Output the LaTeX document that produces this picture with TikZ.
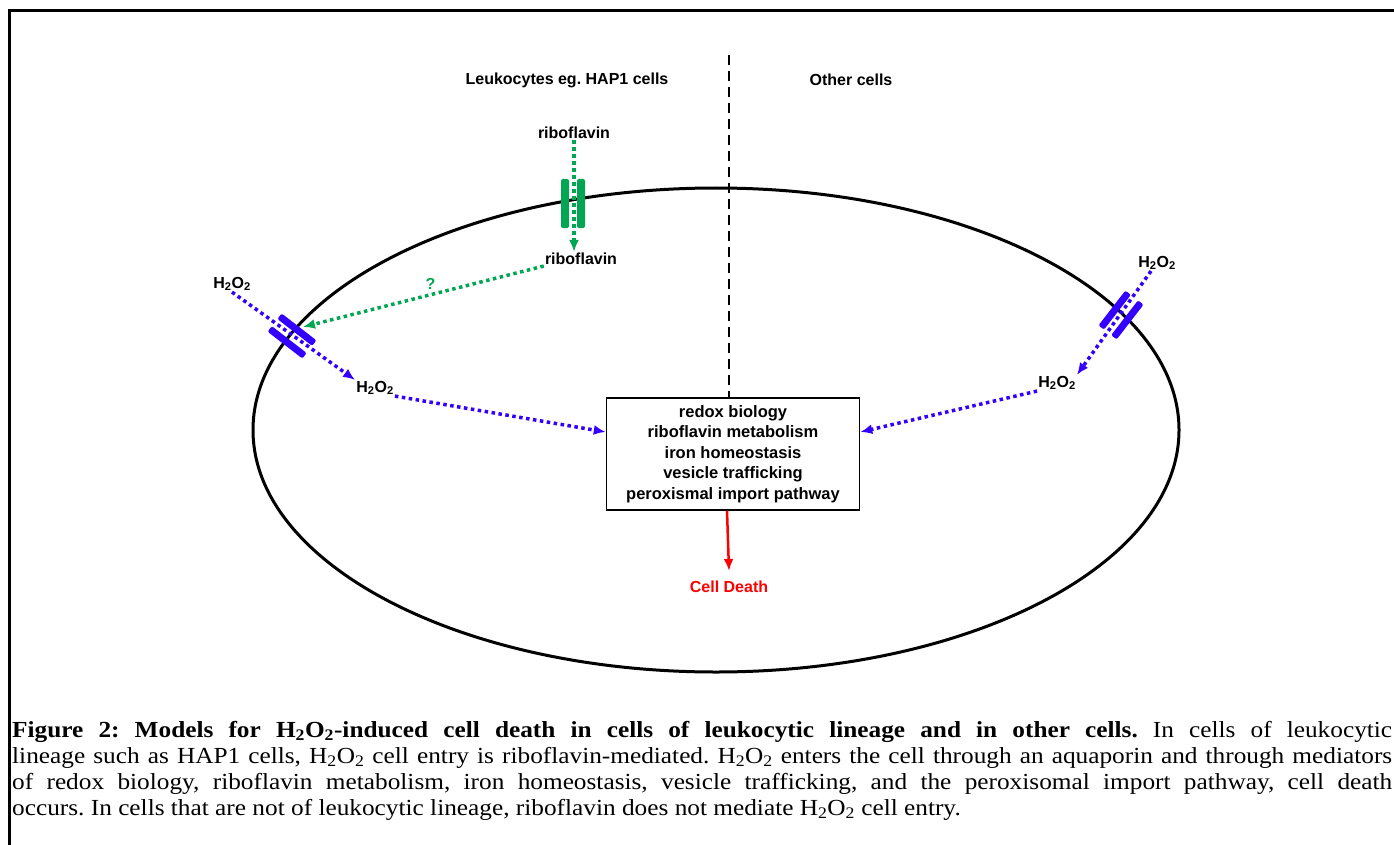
\documentclass[tikz,border=0pt]{standalone}
\usepackage{fontspec}
\setmainfont{Liberation Serif}
\newfontfamily\labelfont{Liberation Sans}
\newfontfamily\capfont[FakeStretch=1.1]{Liberation Serif}
\usetikzlibrary{arrows.meta,positioning}

\definecolor{chanblue}{RGB}{51,0,255}
\definecolor{ribgreen}{RGB}{0,166,81}
\definecolor{deathred}{RGB}{255,0,0}

\newcommand{\hoo}{H\textsubscript{2}O\textsubscript{2}}
\frenchspacing

\begin{document}
\begin{tikzpicture}[x=1pt, y=-1pt, >=Latex,
    lbl/.style = {font=\labelfont\bfseries\fontsize{16}{19}\selectfont, inner sep=1pt},
    block/.style = {draw, line width=1.5pt, minimum width=253pt, minimum height=112pt, align=center,
      font=\labelfont\bfseries\fontsize{16.5}{20.5}\selectfont},
    caption/.style = {text width=1380pt, inner sep=0pt, align=justify,
      font=\capfont\fontsize{23}{26}\selectfont},
    frame/.style = {line width=3pt},
    cellwall/.style = {line width=3pt},
    divider/.style = {line width=2pt, dash pattern=on 10pt off 6pt},
    h2o2flow/.style = {chanblue, line width=3.5pt, dash pattern=on 3.5pt off 3.5pt,
      -{Latex[length=12pt,width=10pt]}},
    ribflow/.style = {ribgreen, line width=3.5pt, dash pattern=on 3.5pt off 3.5pt,
      -{Latex[length=12pt,width=10pt]}},
    deatharrow/.style = {deathred, line width=2.5pt, -{Latex[length=12pt,width=10pt]}},
    chanbar/.style = {rounded corners=2pt},
  ]
  \useasboundingbox (0,0) rectangle (1394,845);
  \draw[frame] (9,845) -- (9,11) -- (1394,11);

  \node [lbl] (lhead) at (567,80) {Leukocytes eg. HAP1 cells};
  \node [lbl] (rhead) at (851,80) {Other cells};

  \draw[cellwall] (716,430) ellipse [x radius=463pt, y radius=242pt];

  \node [block] (box) at (733,454) {redox biology\\riboflavin metabolism\\iron homeostasis\\vesicle trafficking\\peroxismal import pathway};
  \coordinate (divtop) at (729,55);
  \draw[divider] (divtop) -- (divtop |- box.north);

  % riboflavin channel
  \fill[ribgreen, chanbar] (561,179) rectangle (569,228);
  \fill[ribgreen, chanbar] (577,179) rectangle (585,228);
  \node [lbl] (ribtop) at (574,133) {riboflavin};
  \node [lbl] (ribin) at (581,259) {riboflavin};
  \draw[ribflow] (ribtop.south) -- (ribtop |- ribin.north);

  % aquaporin, left
  \begin{scope}[shift={(292,336)}, rotate=-37.7]
    \fill[chanblue, chanbar] (-22,-11.5) rectangle (22,-4.5);
    \fill[chanblue, chanbar] (-22,4.5) rectangle (22,11.5);
  \end{scope}
  \coordinate (lgate) at (303,327);
  \node [lbl] (h2o2ol) at (232,284) {\hoo};
  \node [lbl] (h2o2il) at (375,388) {\hoo};
  \draw[h2o2flow] (h2o2ol.south) -- (h2o2il.north west);
  \draw[ribflow] (ribin.south west) -- node[lbl, ribgreen, above=2pt, pos=0.47] (qmark) {?} (lgate);
  \draw[h2o2flow] (h2o2il.south east) -- ([yshift=22pt]box.west);

  % aquaporin, right
  \begin{scope}[shift={(1121,315)}, rotate=52.3]
    \fill[chanblue, chanbar] (-22,-11.5) rectangle (22,-4.5);
    \fill[chanblue, chanbar] (-22,4.5) rectangle (22,11.5);
  \end{scope}
  \node [lbl] (h2o2or) at (1157,263) {\hoo};
  \node [lbl] (h2o2ir) at (1057,383) {\hoo};
  \draw[h2o2flow] ([xshift=-6pt]h2o2or.south) -- (h2o2ir.north east);
  \draw[h2o2flow] (h2o2ir.south west) -- ([yshift=22pt]box.east);

  \node [lbl, deathred] (death) at (729,587) {Cell Death};
  \draw[deatharrow] ([xshift=-6pt]box.south) -- ([yshift=9pt]death.north);

  \node [caption, anchor=base west] (capt) at (12,737) {\textbf{Figure 2: Models for \hoo-induced cell death in cells of leukocytic lineage and in other cells.} In cells of leukocytic\linebreak
    lineage such as HAP1 cells, \hoo\ cell entry is riboflavin-mediated. \hoo\ enters the cell through an aquaporin and through mediators\linebreak
    of redox biology, riboflavin metabolism, iron homeostasis, vesicle trafficking, and the peroxisomal import pathway, cell death\linebreak
    occurs. In cells that are not of leukocytic lineage, riboflavin does not mediate \hoo\ cell entry.};
\end{tikzpicture}
\end{document}
